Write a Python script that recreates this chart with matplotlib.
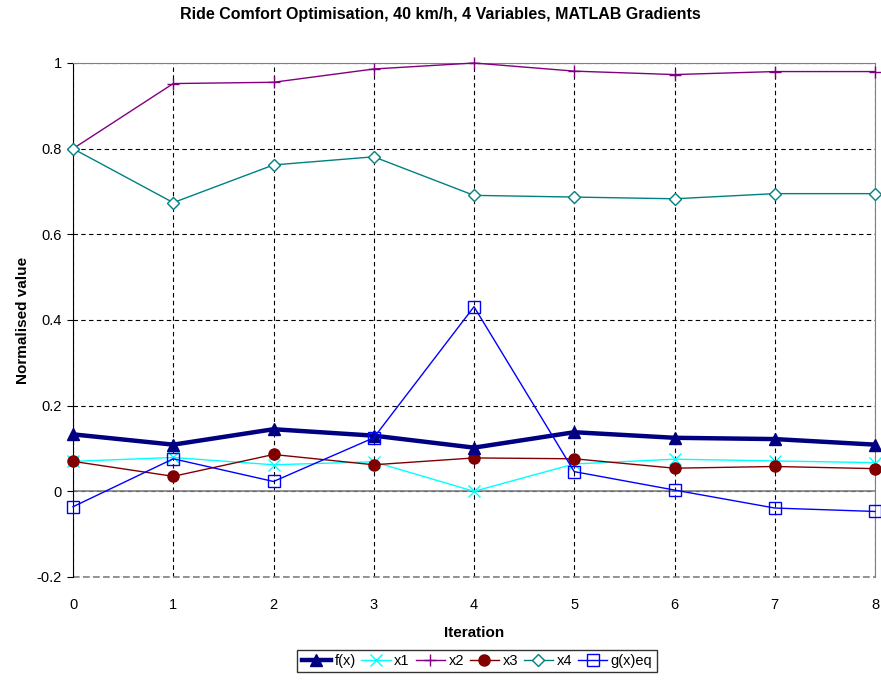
import matplotlib.pyplot as plt

# iterations
iterations = [0, 1, 2, 3, 4, 5, 6, 7, 8]

# normalised values
f_x = [0.133, 0.109, 0.145, 0.130, 0.102, 0.138, 0.125, 0.122, 0.109]
x1 = [0.070, 0.079, 0.062, 0.069, 0.000, 0.064, 0.075, 0.071, 0.067]
x2 = [0.800, 0.952, 0.955, 0.986, 1.000, 0.981, 0.973, 0.980, 0.980]
x3 = [0.070, 0.035, 0.086, 0.062, 0.078, 0.076, 0.054, 0.058, 0.053]
x4 = [0.800, 0.674, 0.762, 0.781, 0.691, 0.687, 0.683, 0.695, 0.695]
g_eq = [-0.036, 0.076, 0.023, 0.125, 0.431, 0.046, 0.003, -0.039, -0.047]

y_ticks = [-0.2, 0, 0.2, 0.4, 0.6, 0.8, 1]
y_tick_labels = ["-0.2", "0", "0.2", "0.4", "0.6", "0.8", "1"]

plt.rcParams["font.family"] = ["Liberation Sans", "DejaVu Sans"]


def main():
    fig = plt.figure(figsize=(8.81, 6.8), dpi=100)
    ax = fig.add_axes([73 / 881, 1 - 577 / 680, (875 - 73) / 881, (577 - 63) / 680])

    ax.plot(iterations, f_x, color="#000080", lw=3.2, marker="^", ms=9,
            label="f(x)", zorder=5, clip_on=False)
    ax.plot(iterations, x1, color="#00FFFF", lw=1, marker="x", ms=9, mew=1,
            label="x1", zorder=4, clip_on=False)
    ax.plot(iterations, x2, color="#800080", lw=1, marker="+", ms=9, mew=1,
            label="x2", zorder=4, clip_on=False)
    ax.plot(iterations, x3, color="#800000", lw=1, marker="o", ms=8,
            label="x3", zorder=4, clip_on=False)
    ax.plot(iterations, x4, color="#008080", lw=1, marker="D", ms=6, mfc="white",
            mew=1, label="x4", zorder=4, clip_on=False)
    ax.plot(iterations, g_eq, color="#0000FF", lw=1, marker="s", ms=9, mfc="none",
            mew=1, label="g(x)eq", zorder=6, clip_on=False)

    ax.set_xlim(0, 8)
    ax.set_ylim(-0.2, 1)
    ax.set_xticks(iterations)
    ax.set_yticks(y_ticks)
    ax.set_yticklabels(y_tick_labels)
    ax.tick_params(axis="both", labelsize=10.5)
    ax.tick_params(axis="x", length=0, pad=15)
    ax.tick_params(axis="y", length=4, pad=4)

    ax.grid(True, color="black", ls=(0, (4, 3)), lw=0.8)
    ax.axhline(0, color="#808080", lw=1.2, zorder=2)
    ax.axhline(-0.2, color="#808080", ls=(0, (4, 2)), lw=1.2, clip_on=False)
    ax.spines["top"].set_color("#808080")
    ax.spines["right"].set_color("#808080")
    ax.spines["bottom"].set_visible(False)
    ax.spines["left"].set_color("black")

    ax.set_xlabel("Iteration", fontsize=11, fontweight="bold", labelpad=10)
    ax.set_ylabel("Normalised value", fontsize=11, fontweight="bold", labelpad=5)
    fig.suptitle("Ride Comfort Optimisation, 40 km/h, 4 Variables, MATLAB Gradients",
                 fontsize=11.5, fontweight="bold", y=1 - 14 / 680, va="center")

    leg = fig.legend(loc="center", bbox_to_anchor=(477 / 881, 1 - 661 / 680), ncol=6,
                     fontsize=10.5, frameon=True, fancybox=False, edgecolor="black",
                     handlelength=2.0, handletextpad=0.25, columnspacing=0.4,
                     borderpad=0.3, borderaxespad=0)
    leg.get_frame().set_linewidth(1)

    fig.savefig("out.png", dpi=100)


if __name__ == "__main__":
    main()
